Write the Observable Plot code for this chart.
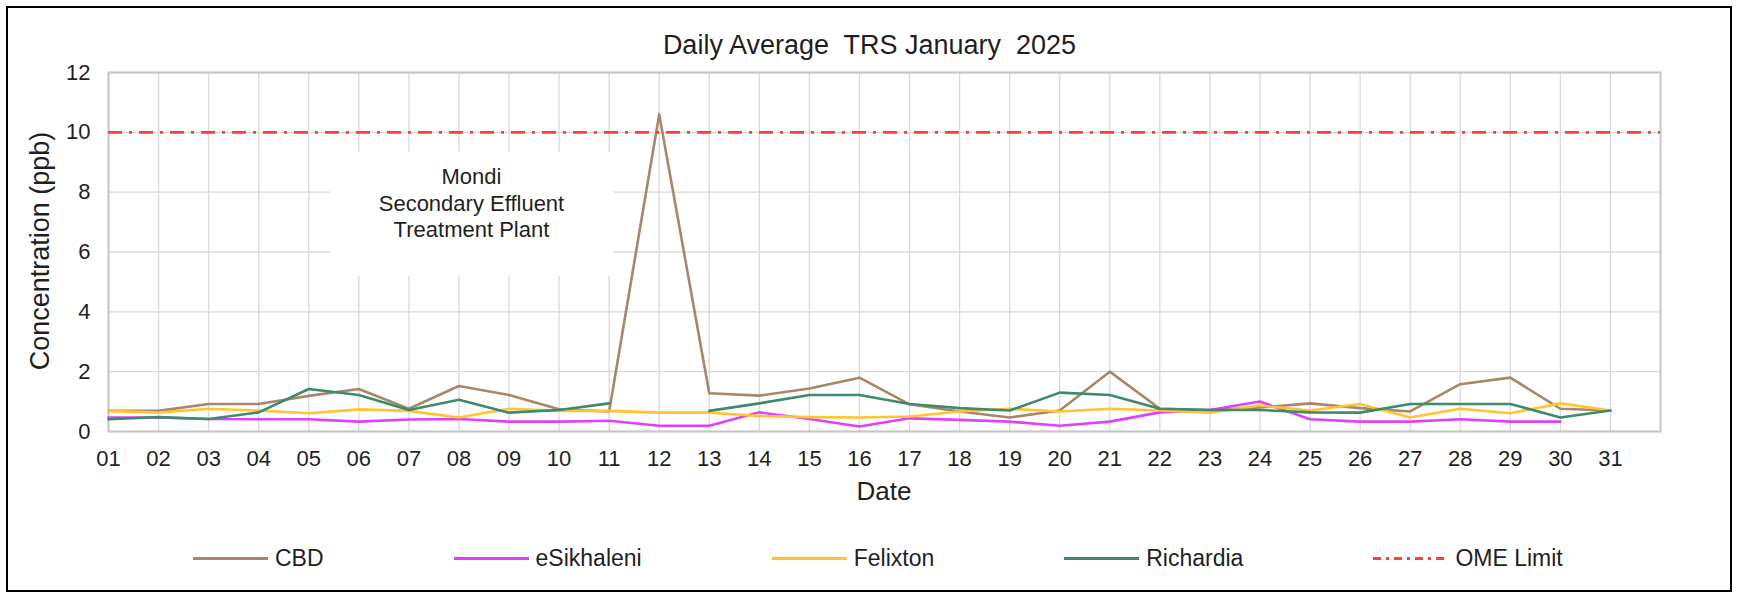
<!DOCTYPE html>
<html>
<head>
<meta charset="utf-8">
<script src="https://cdn.jsdelivr.net/npm/d3@7"></script>
<script src="https://cdn.jsdelivr.net/npm/@observablehq/plot@0.6"></script>
<style>
  body { margin: 0; width: 1739px; height: 599px; position: relative; background: #fff; overflow: hidden;
         font-family: "Liberation Sans", Arial, sans-serif; color: #1f1f1f; }
  #border { position: absolute; left: 6px; top: 6px; width: 1722px; height: 582px; border: 2px solid #000; }
  #title { position: absolute; left: 0; width: 1739px; top: 30px; text-align: center; font-size: 27px; white-space: pre; }
  #chart { position: absolute; left: 0; top: 60px; }
  #ylabel { position: absolute; left: 40px; top: 251px; transform: translate(-50%, -50%) rotate(-90deg); font-size: 27px; white-space: nowrap; }
  #xlabel { position: absolute; left: 884px; top: 491px; transform: translate(-50%, -50%); font-size: 26px; }
  #legend { position: absolute; left: 193px; top: 558px; transform: translateY(-50%); display: flex; gap: 130px; font-size: 23px; }
  .item { display: flex; align-items: center; gap: 7px; white-space: nowrap; }
</style>
</head>
<body>
<div id="border"></div>
<div id="title"></div>
<div id="chart"></div>
<div id="ylabel"></div>
<div id="xlabel"></div>
<div id="legend"></div>
<script>
// ---- data ----
const titleText = "Daily Average  TRS January  2025";
const yTitle = "Concentration (ppb)";
const xTitle = "Date";
const days = [1,2,3,4,5,6,7,8,9,10,11,12,13,14,15,16,17,18,19,20,21,22,23,24,25,26,27,28,29,30,31];
const dayLabels = ["01","02","03","04","05","06","07","08","09","10","11","12","13","14","15","16","17","18","19","20","21","22","23","24","25","26","27","28","29","30","31"];
const yTicks = [0,2,4,6,8,10,12];
const seriesNames = ["CBD","eSikhaleni","Felixton","Richardia"];
const seriesColors = ["#a8866a","#e040fb","#ffc42e","#3d8a6c"];
const cbd = [0.69,0.69,0.92,0.92,1.19,1.42,0.76,1.52,1.22,0.74,0.67,10.6,1.28,1.2,1.44,1.8,0.91,0.67,0.47,0.7,2.0,0.76,0.72,0.8,0.94,0.78,0.67,1.58,1.8,0.76,0.7];
const esikhaleni = [0.47,0.47,0.42,0.41,0.41,0.33,0.40,0.42,0.33,0.33,0.36,0.19,0.19,0.64,0.42,0.17,0.44,0.39,0.33,0.19,0.33,0.64,0.72,1.0,0.41,0.33,0.33,0.41,0.33,0.33,null];
const felixton = [0.69,0.63,0.76,0.70,0.61,0.74,0.69,0.47,0.76,0.69,0.69,0.63,0.63,0.52,0.48,0.47,0.5,0.67,0.76,0.67,0.76,0.7,0.63,0.87,0.7,0.92,0.47,0.76,0.61,0.94,0.7];
const richardia = [0.41,0.48,0.42,0.64,1.42,1.22,0.72,1.06,0.63,0.72,0.94,null,0.69,0.94,1.22,1.22,0.92,0.78,0.7,1.3,1.22,0.76,0.72,0.72,0.64,0.63,0.92,0.92,0.92,0.47,0.7];
const limitName = "OME Limit";
const limitValue = [10];
const limitColor = "#ff3b3b";
// annotation text box (in data units)
const noteText = ["Mondi\nSecondary Effluent\nTreatment Plant"];
const noteBox = [{x1: 5.43, x2: 11.1, y1: 5.18, y2: 9.33, x: 8.25, y: 7.66}];

// ---- build ----
const seriesValues = [cbd, esikhaleni, felixton, richardia];
const rows = [];
seriesNames.forEach((name, i) => days.forEach((d, j) => rows.push({series: name, day: d, value: seriesValues[i][j]})));

document.getElementById("title").textContent = titleText;
document.getElementById("ylabel").textContent = yTitle;
document.getElementById("xlabel").textContent = xTitle;

const chart = Plot.plot({
  width: 1739,
  height: 460,
  marginTop: 12,
  marginBottom: 89,
  marginLeft: 108,
  marginRight: 79,
  style: {fontFamily: "'Liberation Sans', Arial, sans-serif", color: "#1f1f1f", background: "transparent"},
  x: {domain: [1, 32]},
  y: {domain: [0, 12]},
  color: {domain: seriesNames, range: seriesColors},
  marks: [
    Plot.gridX(days, {stroke: "#d9d9d9", strokeOpacity: 1, strokeWidth: 1.3}),
    Plot.gridY(yTicks, {stroke: "#d9d9d9", strokeOpacity: 1, strokeWidth: 1.3}),
    Plot.rect(noteBox, {x1: "x1", x2: "x2", y1: "y1", y2: "y2", fill: "white"}),
    Plot.frame({stroke: "#c6c6c6", strokeWidth: 2}),
    Plot.axisX(days, {tickSize: 0, tickPadding: 19, fontSize: 22, tickFormat: d => dayLabels[d - 1], label: null}),
    Plot.axisY(yTicks, {tickSize: 0, tickPadding: 18, fontSize: 22, label: null}),
    Plot.line(rows, {x: "day", y: "value", z: "series", stroke: "series", strokeWidth: 2.6, strokeLinejoin: "round"}),
    Plot.ruleY(limitValue, {stroke: limitColor, strokeWidth: 2.6, strokeDasharray: "14,7,3,7"}),
    Plot.text(noteText, {x: () => noteBox[0].x, y: () => noteBox[0].y, text: d => d, fontSize: 22, lineHeight: 1.2, fill: "#1f1f1f"})
  ]
});
document.getElementById("chart").appendChild(chart);

// ---- legend ----
const legend = document.getElementById("legend");
const legendEntries = seriesNames.map((n, i) => ({name: n, color: seriesColors[i], dash: null}))
  .concat([{name: limitName, color: limitColor, dash: "8,5,3,5"}]);
legendEntries.forEach(e => {
  const item = document.createElement("div");
  item.className = "item";
  const sw = `<svg width="75" height="6"><line x1="0" x2="75" y1="3" y2="3" stroke="${e.color}" stroke-width="3" ${e.dash ? `stroke-dasharray="${e.dash}"` : ""}/></svg>`;
  item.innerHTML = sw + `<span>${e.name}</span>`;
  legend.appendChild(item);
});
</script>
</body>
</html>
